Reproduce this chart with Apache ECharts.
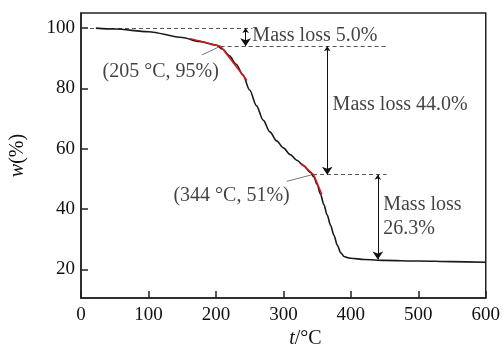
<!DOCTYPE html>
<html>
<head>
<meta charset="utf-8">
<script src="https://cdn.jsdelivr.net/npm/echarts@6/dist/echarts.min.js"></script>
<style>
  html, body { margin: 0; padding: 0; background: #fff; }
  #chart { width: 503px; height: 354px; }
</style>
</head>
<body>
<div id="chart"></div>
<script>
// TGA curve, temperature (°C) vs remaining mass (%)
const temps = [22, 50, 100, 150, 175, 200, 210, 220, 230, 240, 250, 260, 270, 280, 290, 300, 310, 320, 330, 340, 345, 350, 355, 360, 365, 370, 375, 380, 385, 390, 395, 400, 420, 450, 500, 550, 600];
const mass = [100, 99.7, 98.8, 96.9, 95.6, 94.4, 93.0, 90.8, 88.0, 84.5, 79.5, 74.3, 69.5, 65.6, 62.6, 60.3, 58.1, 56.2, 54.4, 52.2, 50.7, 48.2, 45.0, 41.5, 38.0, 34.6, 31.3, 28.0, 25.5, 24.3, 23.9, 23.7, 23.3, 23.0, 22.8, 22.6, 22.4];

const xTicks = [0, 100, 200, 300, 400, 500, 600];
const yTicks = [20, 40, 60, 80, 100];

// reference lines and arrows, [[t1, w1], [t2, w2]]
const dashedLines = [
  [[3, 100], [254, 100]],
  [[207, 94], [453, 94]],
  [[344, 51.4], [453, 51.4]]
];
const arrowLines = [
  [[244, 100], [244, 94]],
  [[365, 94], [365, 51.4]],
  [[440, 51.4], [440, 23.3]]
];
const tangentLines = [
  [[162, 96.5], [207, 94]],
  [[207, 94], [246, 82.6]],
  [[327, 55.0], [345, 51.4]],
  [[345, 51.4], [357, 44.9]]
];
const leaderLines = [
  [[179, 91.1], [203, 93.6]],
  [[305, 49.2], [341, 51.3]]
];
// annotation text, left edge / vertical centre in data coords
const notes = [
  { text: 'Mass loss 5.0%', pos: [254, 97.3] },
  { text: 'Mass loss 44.0%', pos: [373, 74.6] },
  { text: 'Mass loss', pos: [448, 41.5] },
  { text: '26.3%', pos: [448, 33.4] },
  { text: '(205 °C, 95%)', pos: [32, 85.6] },
  { text: '(344 °C, 51%)', pos: [137, 44.4] }
];

const font = 'Liberation Serif';
const chart = echarts.init(document.getElementById('chart'));

const toLines = (arr) => arr.map((c) => ({ coords: c }));

const option = {
  animation: false,
  grid: {
    left: 80,
    right: 17,
    top: 13,
    bottom: 48,
    show: true,
    borderColor: '#222',
    borderWidth: 1.5
  },
  xAxis: {
    type: 'value',
    min: 0,
    max: 600,
    interval: 100,
    name: '{i|t}/°C',
    nameLocation: 'middle',
    nameGap: 26,
    nameTextStyle: {
      fontFamily: font,
      fontSize: 20,
      color: '#111',
      padding: [0, 0, 0, 44],
      rich: { i: { fontStyle: 'italic', fontFamily: font, fontSize: 20, color: '#111' } }
    },
    axisLine: { lineStyle: { color: '#222', width: 1.5 } },
    axisTick: { inside: true, length: 7, lineStyle: { color: '#222', width: 1.5 } },
    axisLabel: {
      fontFamily: font,
      fontSize: 19,
      color: '#111',
      margin: 7,
      customValues: xTicks
    },
    splitLine: { show: false }
  },
  yAxis: {
    type: 'value',
    min: 10.5,
    max: 105,
    name: '{i|w}(%)',
    nameLocation: 'middle',
    nameGap: 53,
    nameTextStyle: {
      fontFamily: font,
      fontSize: 20,
      color: '#111',
      rich: { i: { fontStyle: 'italic', fontFamily: font, fontSize: 20, color: '#111' } }
    },
    axisLine: { show: true, lineStyle: { color: '#222', width: 1.5 } },
    axisTick: { show: true, inside: true, length: 7, customValues: yTicks, lineStyle: { color: '#222', width: 1.5 } },
    axisLabel: {
      fontFamily: font,
      fontSize: 19,
      color: '#111',
      margin: 6,
      customValues: yTicks
    },
    splitLine: { show: false }
  },
  series: [
    {
      type: 'line',
      data: temps.map((t, i) => [t, mass[i]]),
      smooth: 0.3,
      smoothMonotone: 'x',
      symbol: 'none',
      lineStyle: { color: '#1a1a1a', width: 1.6 },
      z: 3
    },
    {
      type: 'lines',
      coordinateSystem: 'cartesian2d',
      data: toLines(tangentLines),
      lineStyle: { color: '#e01818', width: 1.5, opacity: 1 },
      z: 4
    },
    {
      type: 'lines',
      coordinateSystem: 'cartesian2d',
      data: toLines(dashedLines),
      lineStyle: { color: '#555', width: 1, type: [4, 3], opacity: 1 },
      z: 2
    },
    {
      type: 'lines',
      coordinateSystem: 'cartesian2d',
      data: toLines(leaderLines),
      lineStyle: { color: '#777', width: 1, opacity: 1 },
      z: 2
    },
    {
      type: 'lines',
      coordinateSystem: 'cartesian2d',
      data: toLines(arrowLines),
      symbol: ['arrow', 'arrow'],
      symbolSize: [5, 8],
      lineStyle: { color: '#111', width: 1, opacity: 1 },
      z: 2
    },
    {
      type: 'scatter',
      data: notes.map((n) => ({ value: n.pos, name: n.text })),
      symbolSize: 0,
      silent: true,
      label: {
        show: true,
        position: 'inside',
        align: 'left',
        verticalAlign: 'middle',
        formatter: (p) => p.name,
        fontFamily: font,
        fontSize: 20,
        color: '#111'
      },
      z: 5
    }
  ]
};

chart.setOption(option);
</script>
</body>
</html>
